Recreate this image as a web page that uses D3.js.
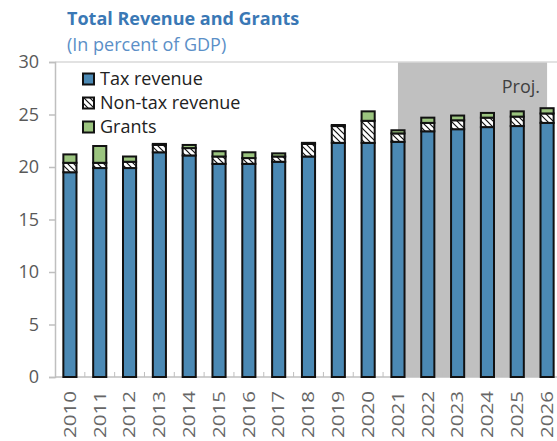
<!DOCTYPE html>
<html>
<head>
<meta charset="utf-8">
<script src="https://cdn.jsdelivr.net/npm/d3@7"></script>
<style>
    body { margin: 0; background: #fff; }
    svg { display: block; font-family: "Open Sans", Lato, sans-serif; }
</style>
</head>
<body>
<div id="chart"></div>
<script>
// data (percent of GDP)
var years = ["2010", "2011", "2012", "2013", "2014", "2015", "2016", "2017", "2018",
    "2019", "2020", "2021", "2022", "2023", "2024", "2025", "2026"];
var taxRevenue    = [19.5, 19.9, 19.9, 21.4, 21.1, 20.3, 20.3, 20.5, 21.0, 22.3, 22.3, 22.4, 23.4, 23.6, 23.8, 23.9, 24.2];
var nonTaxRevenue = [0.9, 0.5, 0.6, 0.7, 0.7, 0.7, 0.55, 0.5, 1.2, 1.6, 2.1, 0.8, 0.8, 0.85, 0.9, 0.9, 0.9];
var grants        = [0.8, 1.6, 0.5, 0.1, 0.3, 0.5, 0.55, 0.3, 0.1, 0.1, 0.9, 0.3, 0.5, 0.45, 0.45, 0.5, 0.5];
var seriesNames = ["Tax revenue", "Non-tax revenue", "Grants"];
var yTicks = [0, 5, 10, 15, 20, 25, 30];
var projFrom = "2021", projTo = "2026";

var width = 557, height = 441;
var margin = { top: 62, right: -5, bottom: 64, left: 55 };

var svg = d3.select("#chart").append("svg")
    .attr("width", width)
    .attr("height", height);

var defs = svg.append("defs");
var pat = defs.append("pattern")
    .attr("id", "nontax")
    .attr("patternUnits", "userSpaceOnUse")
    .attr("width", 6)
    .attr("height", 6);
pat.append("rect").attr("width", 6).attr("height", 6).attr("fill", "#fff");
pat.append("path")
    .attr("d", "M-1,-1L7,7M-1,5L1,7M5,-1L7,1")
    .attr("stroke", "#111")
    .attr("stroke-width", 1.2);

var colors = ["#4b89b4", "url(#nontax)", "#9bc47f"];

var x = d3.scaleBand()
    .domain(years)
    .range([margin.left, width - margin.right])
    .paddingInner(0.56)
    .paddingOuter(0.28);

var y = d3.scaleLinear()
    .domain([0, 30])
    .range([height - margin.bottom, margin.top]);

// projection shading
svg.append("rect")
    .attr("x", x(projFrom) + x.bandwidth() / 2)
    .attr("y", y(30))
    .attr("width", x(projTo) - x(projFrom))
    .attr("height", y(0) - y(30))
    .attr("fill", "#c0c0c0");

svg.append("text")
    .attr("x", 540)
    .attr("y", 93)
    .attr("text-anchor", "end")
    .attr("font-size", 18)
    .attr("fill", "#404040")
    .text("Proj.");

// frame: top border
svg.append("line")
    .attr("x1", margin.left).attr("x2", width)
    .attr("y1", y(30)).attr("y2", y(30))
    .attr("stroke", "#d9d9d9").attr("stroke-width", 1.5);

// y axis
var yAxis = svg.append("g")
    .attr("transform", "translate(" + margin.left + ",0)")
    .call(d3.axisLeft(y).tickValues(yTicks).tickSize(6).tickPadding(10));
yAxis.select(".domain").attr("stroke", "#bfbfbf").attr("stroke-width", 1.5);
yAxis.selectAll(".tick line").attr("stroke", "#bfbfbf").attr("stroke-width", 1.5);
yAxis.selectAll(".tick text")
    .attr("font-size", 18)
    .attr("font-family", "'Open Sans', sans-serif")
    .attr("fill", "#595959");

// x axis
var xAxis = svg.append("g")
    .attr("transform", "translate(0," + y(0) + ")");
xAxis.append("line")
    .attr("x1", margin.left).attr("x2", width)
    .attr("stroke", "#bfbfbf").attr("stroke-width", 1.5);
xAxis.selectAll(".xtick")
    .data(years.slice(1))
    .enter().append("line")
    .attr("class", "xtick")
    .attr("x1", d => x(d) - x.step() * x.paddingInner() / 2)
    .attr("x2", d => x(d) - x.step() * x.paddingInner() / 2)
    .attr("y1", 0).attr("y2", -5)
    .attr("stroke", "#bfbfbf").attr("stroke-width", 1);
xAxis.selectAll(".xlabel")
    .data(years)
    .enter().append("text")
    .attr("class", "xlabel")
    .attr("transform", d => "translate(" + (x(d) + x.bandwidth() / 2) + ",14) rotate(-90)")
    .attr("text-anchor", "end")
    .attr("dy", "0.36em")
    .attr("font-size", 16)
    .attr("fill", "#666")
    .attr("textLength", 47)
    .attr("lengthAdjust", "spacingAndGlyphs")
    .text(d => d);

// stacked bars
var rows = years.map(function(yr, i) {
    return { year: yr, tax: taxRevenue[i], nontax: nonTaxRevenue[i], grants: grants[i] };
});
var stack = d3.stack().keys(["tax", "nontax", "grants"]);
var layers = stack(rows);

var bars = svg.append("g").attr("class", "bars");
bars.selectAll("g")
    .data(layers)
    .enter().append("g")
    .attr("fill", (d, i) => colors[i])
    .selectAll("rect")
    .data(d => d)
    .enter().append("rect")
    .attr("x", d => x(d.data.year))
    .attr("y", d => y(d[1]))
    .attr("width", x.bandwidth())
    .attr("height", d => y(d[0]) - y(d[1]))
    .attr("stroke", "#111")
    .attr("stroke-width", 2);

// titles
svg.append("text")
    .attr("x", 67).attr("y", 25)
    .attr("font-size", 18)
    .attr("font-weight", "bold")
    .attr("fill", "#3a78b5")
    .text("Total Revenue and Grants");
svg.append("text")
    .attr("x", 67).attr("y", 51)
    .attr("font-size", 18)
    .attr("fill", "#5b8fc7")
    .text("(In percent of GDP)");

// legend
var legend = svg.append("g").selectAll("g")
    .data(seriesNames)
    .enter().append("g")
    .attr("transform", (d, i) => "translate(83," + (79 + i * 24) + ")");
legend.append("rect")
    .attr("x", 0).attr("y", -5.5)
    .attr("width", 11).attr("height", 11)
    .attr("fill", (d, i) => colors[i])
    .attr("stroke", "#111")
    .attr("stroke-width", 2);
legend.append("text")
    .attr("x", 17)
    .attr("dy", "0.35em")
    .attr("font-size", 18)
    .attr("fill", "#222")
    .text(d => d);
</script>
</body>
</html>
